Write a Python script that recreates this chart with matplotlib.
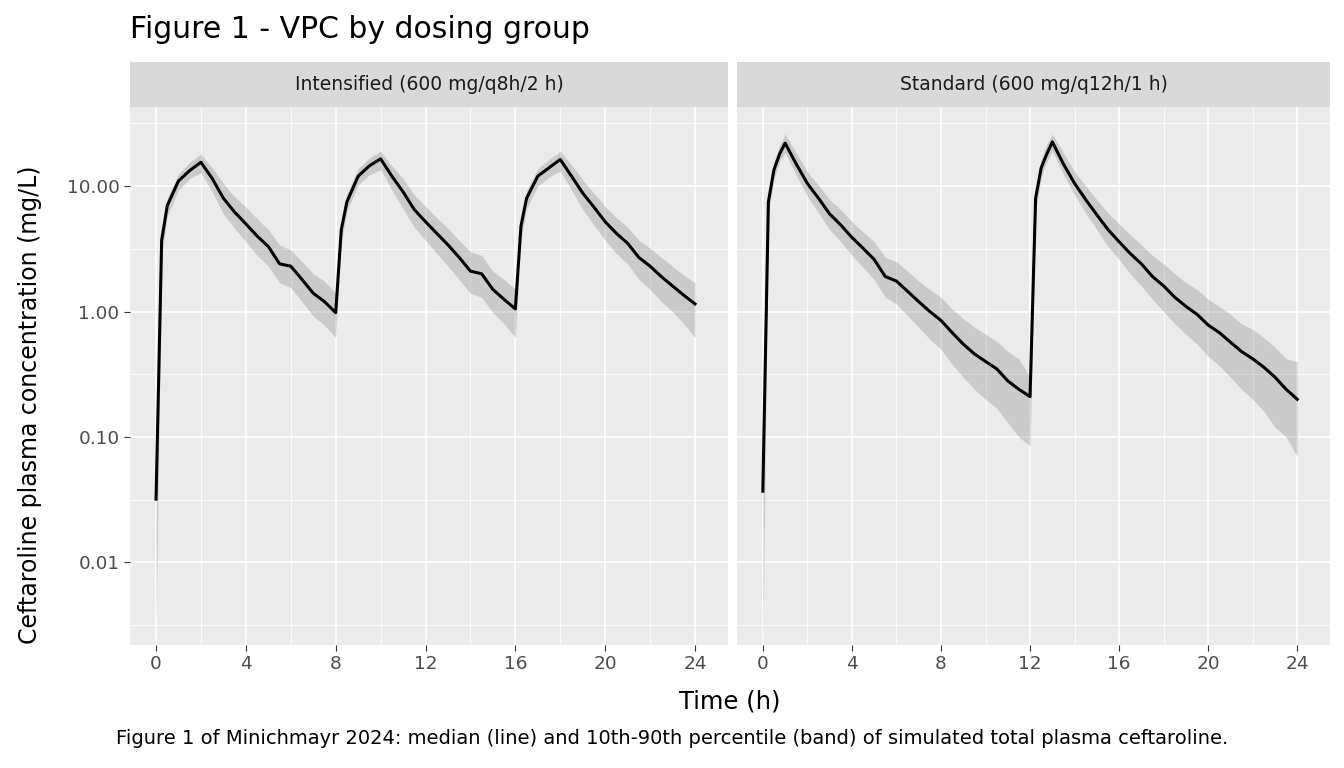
import numpy as np
import matplotlib.pyplot as plt
from matplotlib.ticker import FixedLocator, NullFormatter

# Intensified (600 mg q8h, 2 h infusion)
t_int = [0, 0.25, 0.5, 1, 1.5, 2, 2.5, 3, 3.5, 4, 4.5, 5, 5.5, 6, 6.5, 7, 7.5, 8,
         8.25, 8.5, 9, 9.5, 10, 10.5, 11, 11.5, 12, 12.5, 13, 13.5, 14, 14.5, 15, 15.5, 16,
         16.25, 16.5, 17, 17.5, 18, 18.5, 19, 19.5, 20, 20.5, 21, 21.5, 22, 22.5, 23, 23.5, 24]
med_int = [0.032, 3.7, 7.0, 11.0, 13.3, 15.5, 11.5, 8.0, 6.2, 5.0, 4.0, 3.3, 2.4, 2.3, 1.8, 1.4, 1.2, 0.98,
           4.5, 7.5, 12.0, 14.5, 16.5, 12.0, 9.0, 6.5, 5.2, 4.2, 3.4, 2.7, 2.1, 2.0, 1.5, 1.25, 1.05,
           4.8, 8.0, 12.0, 14.0, 16.3, 12.0, 8.8, 6.8, 5.2, 4.2, 3.5, 2.7, 2.3, 1.9, 1.6, 1.35, 1.15]
lo_int = [0.003, 2.8, 5.8, 9.3, 11.5, 12.8, 9.0, 6.0, 4.6, 3.6, 2.8, 2.3, 1.7, 1.55, 1.2, 0.92, 0.78, 0.62,
          3.6, 6.3, 10.2, 12.3, 13.5, 9.3, 6.6, 4.7, 3.7, 2.9, 2.3, 1.8, 1.4, 1.3, 0.98, 0.8, 0.62,
          3.8, 6.6, 10.0, 11.8, 13.2, 9.3, 6.5, 4.9, 3.7, 2.9, 2.4, 1.8, 1.5, 1.2, 1.0, 0.8, 0.62]
hi_int = [0.032, 4.3, 8.0, 12.5, 15.5, 18.0, 14.0, 10.5, 8.2, 6.8, 5.5, 4.5, 3.4, 3.1, 2.5, 2.0, 1.75, 1.4,
          5.2, 8.7, 13.8, 16.8, 19.0, 14.5, 11.5, 8.5, 6.9, 5.6, 4.6, 3.7, 3.0, 2.8, 2.1, 1.8, 1.5,
          5.6, 9.2, 13.8, 16.3, 19.0, 14.8, 11.2, 8.8, 6.9, 5.6, 4.7, 3.7, 3.2, 2.7, 2.3, 1.95, 1.7]

# Standard (600 mg q12h, 1 h infusion)
t_std = [0, 0.25, 0.5, 0.75, 1, 1.5, 2, 2.5, 3, 3.5, 4, 4.5, 5, 5.5, 6, 6.5, 7, 7.5, 8, 8.5, 9, 9.5,
         10, 10.5, 11, 11.5, 12, 12.25, 12.5, 12.75, 13, 13.5, 14, 14.5, 15, 15.5, 16, 16.5, 17,
         17.5, 18, 18.5, 19, 19.5, 20, 20.5, 21, 21.5, 22, 22.5, 23, 23.5, 24]
med_std = [0.037, 7.5, 13.5, 18.0, 22.0, 15.0, 10.5, 8.0, 6.0, 4.9, 3.9, 3.2, 2.6, 1.9, 1.75, 1.45, 1.2, 1.0,
           0.85, 0.68, 0.55, 0.46, 0.40, 0.35, 0.28, 0.24, 0.21, 8.0, 14.0, 18.0, 22.5, 15.0, 10.5, 7.8,
           5.9, 4.5, 3.6, 2.9, 2.4, 1.9, 1.6, 1.3, 1.1, 0.95, 0.78, 0.68, 0.57, 0.48, 0.42, 0.36, 0.30, 0.24, 0.20]
lo_std = [0.002, 6.0, 11.5, 15.5, 18.5, 12.2, 8.3, 6.1, 4.5, 3.6, 2.8, 2.25, 1.8, 1.3, 1.15, 0.93, 0.75, 0.6,
          0.5, 0.38, 0.3, 0.24, 0.2, 0.17, 0.13, 0.1, 0.085, 6.5, 11.8, 15.5, 19.0, 12.5, 8.5, 6.1,
          4.5, 3.3, 2.6, 2.0, 1.6, 1.25, 1.0, 0.8, 0.66, 0.55, 0.44, 0.37, 0.3, 0.24, 0.2, 0.16, 0.12, 0.1, 0.07]
hi_std = [0.037, 9.0, 15.5, 21.0, 26.0, 18.5, 13.0, 10.2, 7.8, 6.5, 5.2, 4.3, 3.6, 2.7, 2.5, 2.1, 1.75, 1.5,
          1.3, 1.05, 0.88, 0.75, 0.66, 0.58, 0.48, 0.42, 0.3, 9.5, 16.5, 21.5, 26.0, 18.5, 13.0, 10.0,
          7.8, 6.1, 5.0, 4.1, 3.4, 2.8, 2.4, 2.0, 1.7, 1.5, 1.25, 1.1, 0.95, 0.8, 0.72, 0.62, 0.52, 0.42, 0.4]

panels = [("Intensified (600 mg/q8h/2 h)", t_int, med_int, lo_int, hi_int),
          ("Standard (600 mg/q12h/1 h)", t_std, med_std, lo_std, hi_std)]

fig = plt.figure(figsize=(13.44, 7.68), dpi=100)
W, H = 1344, 768
lefts = [(130, 728), (737, 1330)]
ptop, pbot = 107, 645

for i, (name, t, med, lo, hi) in enumerate(panels):
    x0, x1 = lefts[i]
    ax = fig.add_axes([x0 / W, 1 - pbot / H, (x1 - x0) / W, (pbot - ptop) / H])
    ax.set_facecolor('#EBEBEB')
    ax.set_yscale('log')
    ax.set_xlim(-1.16, 25.47)
    ax.set_ylim(0.0022, 42.7)
    ax.xaxis.set_major_locator(FixedLocator([0, 4, 8, 12, 16, 20, 24]))
    ax.xaxis.set_minor_locator(FixedLocator([2, 6, 10, 14, 18, 22]))
    ax.yaxis.set_major_locator(FixedLocator([0.01, 0.1, 1, 10]))
    ax.yaxis.set_minor_locator(FixedLocator([10 ** -2.5, 10 ** -1.5, 10 ** -0.5, 10 ** 0.5, 10 ** 1.5]))
    ax.yaxis.set_minor_formatter(NullFormatter())
    ax.grid(which='major', color='white', lw=1.2)
    ax.grid(which='minor', color='white', lw=0.6)
    ax.set_axisbelow(True)
    for s in ax.spines.values():
        s.set_visible(False)
    ax.tick_params(which='major', colors='#333333', labelcolor='#4D4D4D', labelsize=13.3, length=4)
    ax.tick_params(which='minor', length=0)
    if i == 0:
        ax.set_yticklabels(['0.01', '0.10', '1.00', '10.00'])
    else:
        ax.set_yticklabels([])
        ax.tick_params(axis='y', which='major', length=0)
    ax.fill_between(t, lo, hi, color='grey', alpha=0.3, lw=0)
    ax.plot(t, med, color='black', lw=2.2)
    sax = fig.add_axes([x0 / W, 1 - ptop / H, (x1 - x0) / W, 45 / H])
    sax.set_facecolor('#D9D9D9')
    sax.set_xticks([]); sax.set_yticks([])
    for s in sax.spines.values():
        s.set_visible(False)
    sax.text(0.5, 0.5, name, ha='center', va='center', fontsize=13.5, color='#1A1A1A')

fig.text(130 / W, 1 - 30 / H, 'Figure 1 - VPC by dosing group', fontsize=21.5, va='center')
fig.text(30 / W, 1 - 405 / H, 'Ceftaroline plasma concentration (mg/L)', fontsize=17,
         rotation=90, ha='center', va='center')
fig.text(730 / W, 1 - 701 / H, 'Time (h)', fontsize=17.5, ha='center', va='center')
fig.text(672 / W, 1 - 738 / H,
         'Figure 1 of Minichmayr 2024: median (line) and 10th-90th percentile (band) of simulated total plasma ceftaroline.',
         fontsize=14, ha='center', va='center')
fig.savefig('out.png', dpi=100)
